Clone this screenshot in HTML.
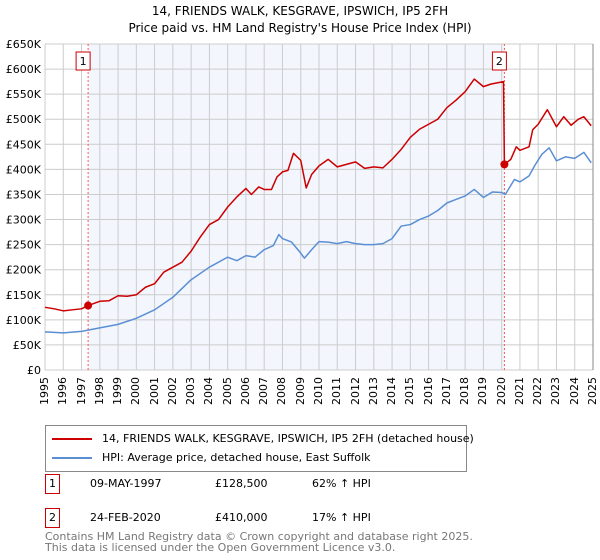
<!DOCTYPE html>
<html><head><meta charset="utf-8"><style>
body{margin:0;width:600px;height:560px;background:#fff;font-family:"DejaVu Sans","Liberation Sans",sans-serif;overflow:hidden;position:relative}
.t{position:absolute;font-size:12px;color:#000}
.box{position:absolute;border:1px solid #c00;font-size:11px;padding:0 3px;line-height:18px;background:#fff}
.yl{position:absolute;font-size:11px;writing-mode:vertical-rl;transform:rotate(180deg);line-height:13px}
</style></head><body>
<div class="t" style="left:0;width:600px;text-align:center;top:3px;line-height:17px">14, FRIENDS WALK, KESGRAVE, IPSWICH, IP5 2FH<br>Price paid vs. HM Land Registry's House Price Index (HPI)</div>
<svg id="chart" width="600" height="425" style="position:absolute;left:0;top:0"></svg>
<div id="xl"></div>
<div style="position:absolute;left:45px;top:425px;width:420px;height:45px;border:1px solid #888;font-size:11px">
 <div style="position:absolute;left:6px;top:6px;white-space:nowrap"><span style="display:inline-block;width:40px;height:2px;background:#c00;vertical-align:middle;margin-right:10px"></span>14, FRIENDS WALK, KESGRAVE, IPSWICH, IP5 2FH (detached house)</div>
 <div style="position:absolute;left:6px;top:25px;white-space:nowrap"><span style="display:inline-block;width:40px;height:2px;background:#5b8fd4;vertical-align:middle;margin-right:10px"></span>HPI: Average price, detached house, East Suffolk</div>
</div>
<div>
<div class="box" style="left:45px;top:474px">1</div>
<div class="t" style="left:90px;top:477px;font-size:11px">09-MAY-1997</div>
<div class="t" style="left:215px;top:477px;font-size:11px">£128,500</div>
<div class="t" style="left:312px;top:477px;font-size:11px">62% ↑ HPI</div></div>
<div>
<div class="box" style="left:45px;top:508px">2</div>
<div class="t" style="left:90px;top:511px;font-size:11px">24-FEB-2020</div>
<div class="t" style="left:215px;top:511px;font-size:11px">£410,000</div>
<div class="t" style="left:312px;top:511px;font-size:11px">17% ↑ HPI</div></div>
<div class="t" style="left:45px;top:531px;font-size:11px;color:#777;line-height:11px">Contains HM Land Registry data © Crown copyright and database right 2025.<br>This data is licensed under the Open Government Licence v3.0.</div>
<script>
const hpiYears=[1995,1996,1997,1998,1999,2000,2001,2002,2003,2004,2005,2005.5,2006,2006.5,2007,2007.5,2007.8,2008,2008.5,2009,2009.2,2009.6,2010,2010.5,2011,2011.5,2012,2012.5,2013,2013.5,2014,2014.5,2015,2015.5,2016,2016.5,2017,2017.5,2018,2018.5,2019,2019.5,2020,2020.2,2020.7,2021,2021.5,2021.8,2022.2,2022.6,2023,2023.5,2024,2024.5,2024.9];
const hpiValues=[76,74,77,84,91,103,120,145,180,205,225,218,228,225,240,248,270,262,255,233,223,240,256,255,252,256,252,250,250,252,262,287,290,300,307,318,333,340,347,360,344,355,354,350,380,375,387,407,430,443,417,425,422,434,413];
const redYears=[1995,1995.5,1996,1996.5,1997,1997.36,1998,1998.5,1999,1999.5,2000,2000.5,2001,2001.5,2002,2002.5,2003,2003.5,2004,2004.5,2005,2005.5,2006,2006.3,2006.7,2007,2007.4,2007.7,2008,2008.3,2008.6,2009,2009.3,2009.6,2010,2010.5,2011,2011.5,2012,2012.5,2013,2013.5,2014,2014.5,2015,2015.5,2016,2016.5,2017,2017.5,2018,2018.5,2019,2019.4,2020.1,2020.15,2020.5,2020.8,2021,2021.5,2021.7,2022,2022.5,2023,2023.4,2023.8,2024.2,2024.5,2024.9];
const redValues=[125,122,118,120,122,128.5,137,138,148,147,150,165,172,195,205,215,237,265,290,300,325,345,362,350,365,360,360,385,395,398,432,418,363,390,407,420,405,410,415,402,405,403,420,440,464,480,490,500,523,538,555,580,565,570,575,410,420,445,438,445,479,490,519,485,505,488,500,505,487];
const sales=[[1997.36,128.5,"1"],[2020.15,410,"2"]];
const yTicks=[0,50,100,150,200,250,300,350,400,450,500,550,600,650];
const X0=45,X1=593,Y0=370,Y1=44;
const sx=y=>X0+(y-1995)/30*(X1-X0), sy=v=>Y0-v/650*(Y0-Y1);
const svg=document.getElementById('chart'),NS='http://www.w3.org/2000/svg';
function mk(t,a,p){const e=document.createElementNS(NS,t);for(const k in a)e.setAttribute(k,a[k]);(p||svg).appendChild(e);return e;}
let e=mk('rect',{x:sx(sales[0][0]),y:Y1,width:sx(sales[1][0])-sx(sales[0][0]),height:Y0-Y1,fill:'#f3f6fd'});


const xl=document.getElementById('xl');
for(let y=1995;y<=2025;y++){
 e=mk('line',{x1:sx(y),x2:sx(y),y1:Y1,y2:Y0,stroke:'#ccc','stroke-width':1});
 
 
 const d=document.createElement('div');
 d.className='yl';
 d.style.left=(sx(y)-7)+'px';
 d.style.top='377px';
 d.textContent=y;
 
 
 xl.appendChild(d);
}
yTicks.forEach(v=>{
 e=mk('line',{x1:X0,x2:X1,y1:sy(v),y2:sy(v),stroke:'#ccc','stroke-width':1});
 
 
 e=mk('text',{x:41,y:sy(v)+4,'text-anchor':'end','font-size':11,'font-family':'DejaVu Sans,sans-serif'});
 e.textContent=v===0?'£0':'£'+v+'K';
 
 
});
e=mk('line',{x1:X1,x2:X1,y1:Y1,y2:Y0,stroke:'#888'});


sales.forEach(s=>{
 e=mk('line',{x1:sx(s[0]),x2:sx(s[0]),y1:Y1,y2:Y0,stroke:'#f55','stroke-dasharray':'2,2'});
 
 
});
function line(xs,vs,col,name){
 e=mk('polyline',{points:xs.map((x,i)=>sx(x)+','+sy(vs[i])).join(' '),fill:'none',stroke:col,'stroke-width':1.5,'stroke-linejoin':'round'});
 
 
}
line(hpiYears,hpiValues,'#5b8fd4','hpi-line');
line(redYears,redValues,'#c00','property-price-line');
sales.forEach(s=>{
 e=mk('circle',{cx:sx(s[0]),cy:sy(s[1]),r:4,fill:'#c00'});
 
 
 const bx=sx(s[0])-12;
 e=mk('rect',{x:bx,y:52,width:14,height:18,fill:'#fff',stroke:'#c00'});
 
 
 e=mk('text',{x:bx+7,y:65,'text-anchor':'middle','font-size':11,'font-family':'DejaVu Sans,sans-serif'});
 e.textContent=s[2];
 
 
});
</script>
</body></html>
